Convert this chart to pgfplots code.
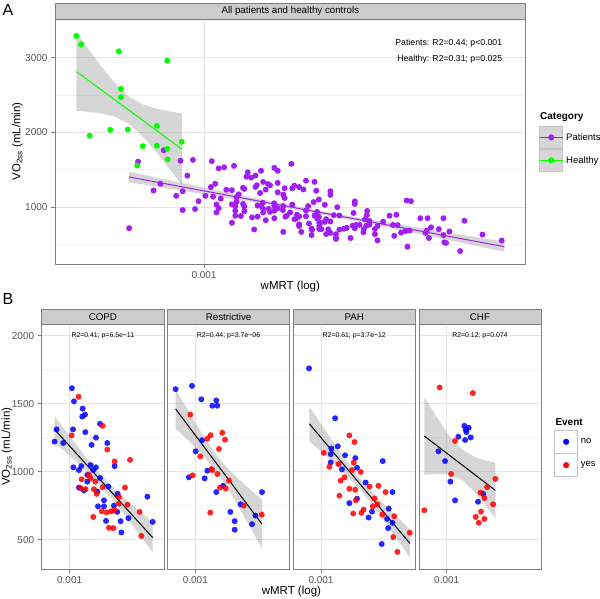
\documentclass[border=0pt]{standalone}
\usepackage{fontspec}
\setmainfont{Liberation Sans}
\usepackage{pgfplots}
\pgfplotsset{compat=1.18}
\usepackage{pgfplotstable}

\definecolor{grey50}{HTML}{7F7F7F}
\definecolor{grey80}{HTML}{CCCCCC}
\definecolor{grey90}{HTML}{E5E5E5}
\definecolor{grey96}{HTML}{F3F3F3}
\definecolor{ticktext}{HTML}{555555}
\definecolor{ppurple}{HTML}{A020F0}
\definecolor{hgreen}{HTML}{00FF00}
\definecolor{bandgrey}{HTML}{999999}
\definecolor{keybg}{HTML}{D6D6D6}
\definecolor{keyedge}{HTML}{C4C4C4}

% x = log10(wMRT), y = VO2ss (mL/min)
\pgfplotstableread{
x y
-2.982 1614
-2.966 1517
-2.898 1464
-2.880 1420
-2.901 1405
-2.762 1352
-3.102 1311
-2.974 1311
-2.877 1291
-2.794 1250
-3.118 1221
-3.050 1211
-2.705 1211
-2.828 1197
-2.648 1041
-2.971 1032
-2.927 1012
-2.909 1041
-2.836 1049
-2.794 1032
-2.815 1012
-2.862 976
-2.862 927
-2.762 954
-2.927 883
-2.888 862
-2.783 854
-2.697 891
-2.624 837
-2.392 816
-2.731 789
-2.731 745
-2.778 745
-2.653 750
-2.627 704
-2.540 658
-2.715 638
-2.601 636
-2.350 631
-2.595 553
}\copdno
\pgfplotstableread{
x y
-2.930 1551
-2.742 1337
-2.984 1267
-2.705 1163
-2.648 1075
-2.527 1087
-2.849 976
-2.836 951
-2.906 944
-2.799 927
-2.810 871
-2.875 871
-2.914 879
-2.789 837
-2.742 886
-2.567 883
-2.614 813
-2.614 765
-2.548 757
-2.749 709
-2.710 701
-2.674 709
-2.648 716
-2.452 704
-2.815 667
-2.692 587
-2.658 585
-2.439 527
}\copdyes
\pgfplotstableread{
x y
-3.154 1607
-3.026 1631
-2.953 1532
-2.836 1524
-2.867 1485
-2.828 1485
-2.948 1231
-2.997 1150
-2.906 1007
-3.050 959
-2.927 951
-2.783 896
-2.836 850
-2.478 850
-2.645 760
-2.726 704
-2.530 677
-2.692 636
-2.556 614
-2.692 573
}\restno
\pgfplotstableread{
x y
-3.039 1420
-2.789 1286
-2.880 1269
-2.768 1235
-2.906 1243
-2.815 1167
-2.961 1112
-2.875 1019
-2.867 1012
-2.828 983
-3.021 973
-2.736 934
-2.807 883
-2.762 876
-2.621 750
-2.883 699
-2.480 684
}\restyes
\pgfplotstableread{
x y
-3.094 1760
-2.890 1393
-2.869 1187
-2.919 1170
-2.924 1129
-2.812 1121
-2.732 1100
-2.924 1068
-2.836 1017
-2.718 1029
-2.517 1078
-2.651 920
-2.441 850
-2.718 801
-2.778 769
-2.601 706
-2.628 663
-2.470 728
-2.483 653
-2.441 624
-2.475 585
-2.525 468
}\pahno
\pgfplotstableread{
x y
-2.778 1267
-2.738 1218
-2.979 1138
-2.935 1036
-2.863 1056
-2.744 1066
-2.757 1012
-2.689 998
-2.816 959
-2.846 934
-2.551 896
-2.620 891
-2.778 874
-2.732 867
-2.495 850
-2.856 823
-2.728 789
-2.582 803
-2.559 760
-2.595 745
-2.667 721
-2.684 697
-2.748 692
-2.520 684
-2.427 672
-2.305 551
-2.435 519
-2.402 410
}\pahyes
\pgfplotstableread{
x y
-2.862 1337
-2.828 1323
-2.851 1308
-2.846 1291
-2.909 1257
-2.812 1252
-2.856 1233
-3.065 1150
-3.013 1078
-2.971 927
-2.715 837
-2.935 789
-2.755 779
}\chfno
\pgfplotstableread{
x y
-3.055 1619
-2.796 1578
-2.935 1226
-2.966 983
-2.619 947
-2.684 886
-2.736 847
-2.705 806
-2.637 760
-3.175 716
-2.731 706
-2.773 667
-2.705 653
-2.749 624
}\chfyes
\pgfplotstableread{
x y
-3.298 3289
-3.287 3178
-3.199 3084
-3.086 2960
-3.194 2581
-3.194 2470
-3.110 2087
-3.178 2038
-3.219 2033
-3.267 1953
-3.052 1873
-3.143 1815
-3.110 1820
-3.086 1779
-3.085 1637
-3.156 1557
}\healthy

\pgfplotsset{
  gg/.style={
    scale only axis, anchor=south west,
    axis line style={draw=grey50, line width=0.6pt},
    tick align=outside, tick pos=left,
    major tick length=4pt, minor tick length=0pt,
    tick style={grey50, line width=0.6pt},
    xmajorgrids, ymajorgrids, yminorgrids,
    major grid style={grey90, line width=0.5pt},
    minor grid style={grey96, line width=0.4pt},
    ticklabel style={font=\fontsize{10}{12}\selectfont, text=ticktext},
    /pgf/number format/assume math mode=true,
    axis background/.style={fill=white},
  },
  bpanel/.style={
    gg, width=122.3pt, height=245pt,
    xmin=-3.2185, xmax=-2.2615, ymin=282, ymax=2084,
    xtick={-3}, xticklabels={0.001},
    ytick={500,1000,1500,2000}, minor ytick={750,1250,1750},
  },
  inner/.style={yticklabels={}, ytick style={draw=none}},
  dot/.style={only marks, mark=*, mark size=3pt, color=#1,
    mark options={fill=#1, draw opacity=0}, forget plot},
  bdot/.style={only marks, mark=*, mark size=3pt, color=#1,
    mark options={fill=#1, fill opacity=0.85, draw opacity=0}, forget plot},
  band/.style={fill=bandgrey, fill opacity=0.4, draw=none, forget plot},
  fit/.style={#1, line width=1pt, forget plot},
  leg/.style={draw=none, fill=none, inner sep=0pt, row sep=0pt,
    font=\fontsize{9.5}{11}\selectfont, nodes={inner sep=0pt},
    /tikz/every odd column/.append style={column sep=3pt}},
}

\begin{document}
\begin{tikzpicture}[x=1pt,y=1pt]
\path[use as bounding box, fill=white] (0,0) rectangle (600,598);

% ---------------- panel A ----------------
\begin{axis}[gg, at={(55pt,334pt)}, width=470.7pt, height=245pt,
  xmin=-3.348, xmax=-2.249, ymin=237, ymax=3517,
  xtick={-3}, xticklabels={0.001},
  ytick={1000,2000,3000}, yticklabels={1000,2000,3000},
  minor ytick={500,1500,2500,3500},
  legend style={leg, at={(1.0283,0.5646)}, anchor=north west},
  legend cell align=left]
\addplot[band] coordinates {(-3.175,1472) (-3.05,1321) (-2.9,1141) (-2.75,971) (-2.6,820) (-2.45,677) (-2.299,536)
  (-2.299,402) (-2.45,582) (-2.6,760) (-2.75,927) (-2.9,1077) (-3.05,1217) (-3.175,1332)} -- cycle;
\addplot[band] coordinates {(-3.298,3338) (-3.27,3115) (-3.24,2884) (-3.21,2670) (-3.175,2474) (-3.14,2366) (-3.11,2315) (-3.08,2280) (-3.052,2253)
  (-3.052,1297) (-3.08,1506) (-3.11,1725) (-3.14,1926) (-3.175,2114) (-3.21,2214) (-3.24,2252) (-3.27,2275) (-3.298,2288)} -- cycle;
\addplot[dot=ppurple] table {\copdno};
\addplot[dot=ppurple] table {\copdyes};
\addplot[dot=ppurple] table {\restno};
\addplot[dot=ppurple] table {\restyes};
\addplot[dot=ppurple] table {\pahno};
\addplot[dot=ppurple] table {\pahyes};
\addplot[dot=ppurple] table {\chfno};
\addplot[dot=ppurple] table {\chfyes};
\addplot[dot=hgreen] table {\healthy};
\addplot[fit=ppurple] coordinates {(-3.175,1402) (-2.299,469)};
\addplot[fit=hgreen] coordinates {(-3.298,2813) (-3.052,1775)};
\node[anchor=east, inner sep=0pt, font=\fontsize{8.7}{10}\selectfont] at (axis cs:-2.3035,3191) {Patients: R2=0.44; p<0.001};
\node[anchor=east, inner sep=0pt, font=\fontsize{8.7}{10}\selectfont] at (axis cs:-2.3035,2981) {Healthy: R2=0.31; p=0.025};
\addlegendimage{legend image code/.code={
  \filldraw[fill=keybg, draw=keyedge, line width=0.5pt] (0pt,-11.25pt) rectangle (23pt,11.25pt);
  \draw[ppurple, line width=1pt] (0pt,0pt) -- (23pt,0pt);
  \fill[ppurple] (11.5pt,0pt) circle[radius=2.8pt];}}
\addlegendentry{Patients}
\addlegendimage{legend image code/.code={
  \filldraw[fill=keybg, draw=keyedge, line width=0.5pt] (0pt,-11.25pt) rectangle (23pt,11.25pt);
  \draw[hgreen, line width=1pt] (0pt,0pt) -- (23pt,0pt);
  \fill[hgreen] (11.5pt,0pt) circle[radius=2.8pt];}}
\addlegendentry{Healthy}
\end{axis}

% ---------------- panel B: COPD ----------------
\begin{axis}[bpanel, at={(41.7pt,28.7pt)}, yticklabels={500,1000,1500,2000}]
\addplot[band] coordinates {(-3.118,1408) (-3.0,1261) (-2.88,1115) (-2.75,970) (-2.62,847) (-2.48,730) (-2.35,625)
  (-2.35,405) (-2.48,570) (-2.62,743) (-2.75,890) (-2.88,1013) (-3.0,1117) (-3.118,1214)} -- cycle;
\addplot[bdot=blue] table {\copdno};
\addplot[bdot=red] table {\copdyes};
\addplot[fit=black] coordinates {(-3.118,1311) (-2.350,515)};
\node[font=\fontsize{6.9}{8}\selectfont] at (axis cs:-2.74,2000) {R2=0.41; p=6.5e−11};
\end{axis}

% ---------------- Restrictive ----------------
\begin{axis}[bpanel, inner, at={(167.4pt,28.7pt)}]
\addplot[band] coordinates {(-3.154,1604) (-3.05,1438) (-2.94,1267) (-2.83,1115) (-2.72,997) (-2.60,893) (-2.478,794)
  (-2.478,434) (-2.60,641) (-2.72,837) (-2.83,995) (-2.94,1119) (-3.05,1225) (-3.154,1318)} -- cycle;
\addplot[bdot=blue] table {\restno};
\addplot[bdot=red] table {\restyes};
\addplot[fit=black] coordinates {(-3.154,1461) (-2.478,614)};
\node[font=\fontsize{6.9}{8}\selectfont] at (axis cs:-2.74,2000) {R2=0.44; p=3.7e−06};
\end{axis}

% ---------------- PAH ----------------
\begin{axis}[bpanel, inner, at={(293.1pt,28.7pt)}]
\addplot[band] coordinates {(-3.091,1480) (-2.95,1280) (-2.81,1093) (-2.67,921) (-2.53,780) (-2.42,681) (-2.305,576)
  (-2.305,370) (-2.42,523) (-2.53,670) (-2.67,841) (-2.81,983) (-2.95,1108) (-3.091,1224)} -- cycle;
\addplot[bdot=blue] table {\pahno};
\addplot[bdot=red] table {\pahyes};
\addplot[fit=black] coordinates {(-3.091,1352) (-2.305,473)};
\node[font=\fontsize{6.9}{8}\selectfont] at (axis cs:-2.74,2000) {R2=0.61; p=3.7e−12};
\end{axis}

% ---------------- CHF ----------------
\begin{axis}[bpanel, inner, at={(418.8pt,28.7pt)},
  legend style={leg, at={(1.1072,0.5686)}, anchor=north west},
  legend cell align=left]
\addplot[band] coordinates {(-3.175,1547) (-3.08,1404) (-2.98,1265) (-2.88,1162) (-2.78,1108) (-2.70,1083) (-2.619,1067)
  (-2.619,657) (-2.70,757) (-2.78,848) (-2.88,938) (-2.98,979) (-3.08,984) (-3.175,977)} -- cycle;
\addplot[bdot=blue] table {\chfno};
\addplot[bdot=red] table {\chfyes};
\addplot[fit=black] coordinates {(-3.175,1262) (-2.619,862)};
\node[font=\fontsize{6.9}{8}\selectfont] at (axis cs:-2.74,2000) {R2=0.12; p=0.074};
\addlegendimage{legend image code/.code={
  \filldraw[fill=white, draw=keyedge, line width=0.5pt] (0pt,-11.4pt) rectangle (23pt,11.4pt);
  \fill[blue] (11.5pt,0pt) circle[radius=2.8pt];}}
\addlegendentry{no}
\addlegendimage{legend image code/.code={
  \filldraw[fill=white, draw=keyedge, line width=0.5pt] (0pt,-11.4pt) rectangle (23pt,11.4pt);
  \fill[red] (11.5pt,0pt) circle[radius=2.8pt];}}
\addlegendentry{yes}
\end{axis}

% ---------------- strips, titles, labels ----------------
\begin{scope}[line width=0.6pt]
\filldraw[fill=grey80, draw=grey50] (55,579) rectangle (525.7,594.7);
\filldraw[fill=grey80, draw=grey50] (41.7,273.7) rectangle (164.0,289);
\filldraw[fill=grey80, draw=grey50] (167.4,273.7) rectangle (289.7,289);
\filldraw[fill=grey80, draw=grey50] (293.1,273.7) rectangle (415.4,289);
\filldraw[fill=grey80, draw=grey50] (418.8,273.7) rectangle (541.1,289);
\end{scope}
\begin{scope}[font=\fontsize{9.75}{11}\selectfont]
\node at (290.35,586.85) {All patients and healthy controls};
\node at (102.85,281.35) {COPD};
\node at (228.55,281.35) {Restrictive};
\node at (354.25,281.35) {PAH};
\node at (479.95,281.35) {CHF};
\end{scope}
\begin{scope}[font=\fontsize{11.5}{13}\selectfont]
\node at (290.35,311.3) {wMRT (log)};
\node[rotate=90] at (17.5,456.5) {VO\textsubscript{2ss} (mL/min)};
\node at (291.4,6.8) {wMRT (log)};
\node[rotate=90] at (6.8,151.2) {VO\textsubscript{2ss} (mL/min)};
\end{scope}
\node[anchor=west, inner sep=0pt, font=\bfseries\fontsize{10}{12}\selectfont] at (540,481.3) {Category};
\node[anchor=west, inner sep=0pt, font=\bfseries\fontsize{10}{12}\selectfont] at (555.3,176) {Event};
\node[anchor=north west, inner sep=0pt, font=\fontsize{16}{18}\selectfont] at (2.5,594) {A};
\node[anchor=north west, inner sep=0pt, font=\fontsize{16}{18}\selectfont] at (2.5,305) {B};
\end{tikzpicture}
\end{document}
